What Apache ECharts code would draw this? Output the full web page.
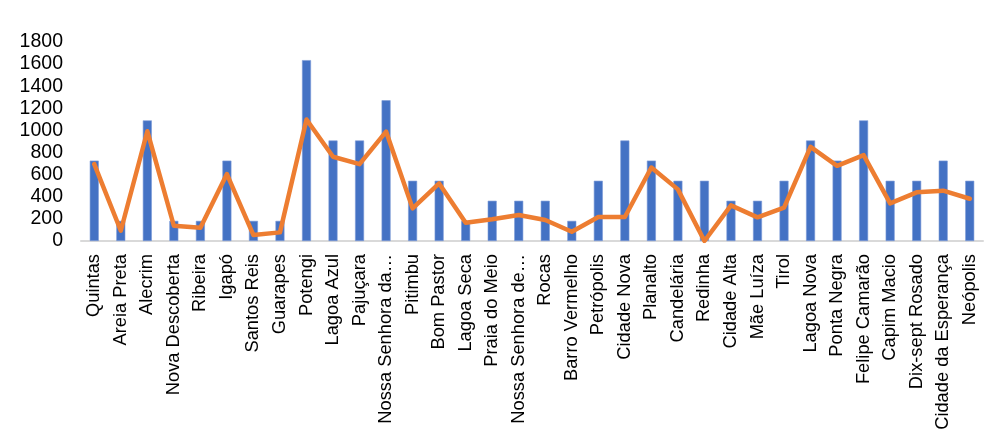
<!DOCTYPE html>
<html>
<head>
<meta charset="utf-8">
<script src="https://cdn.jsdelivr.net/npm/echarts@6/dist/echarts.min.js"></script>
<style>
	html, body { margin: 0; padding: 0; background: #fff; }
	#chart { width: 1000px; height: 442px; }
</style>
</head>
<body>
<div id="chart"></div>
<script>
var bairros = ['Quintas', 'Areia Preta', 'Alecrim', 'Nova Descoberta', 'Ribeira', 'Igapó', 'Santos Reis',
	'Guarapes', 'Potengi', 'Lagoa Azul', 'Pajuçara', 'Nossa Senhora da…', 'Pitimbu', 'Bom Pastor',
	'Lagoa Seca', 'Praia do Meio', 'Nossa Senhora de…', 'Rocas', 'Barro Vermelho', 'Petrópolis',
	'Cidade Nova', 'Planalto', 'Candelária', 'Redinha', 'Cidade Alta', 'Mãe Luíza', 'Tirol',
	'Lagoa Nova', 'Ponta Negra', 'Felipe Camarão', 'Capim Macio', 'Dix-sept Rosado',
	'Cidade da Esperança', 'Neópolis'];

var barras = [727, 182, 1091, 182, 182, 727, 182, 182, 1636, 909, 909, 1273, 545, 545, 182, 364,
	364, 364, 182, 545, 909, 727, 545, 545, 364, 364, 545, 909, 727, 1091, 545, 545, 727, 545];

var linha = [695, 93, 993, 138, 120, 605, 54, 78, 1099, 762, 695, 990, 295, 521, 166, 196,
	235, 190, 84, 217, 217, 665, 467, 0, 322, 214, 301, 852, 680, 777, 340, 440, 455, 382];

var yTicks = [0, 200, 400, 600, 800, 1000, 1200, 1400, 1600, 1800];

var chart = echarts.init(document.getElementById('chart'));
var option = {
	animation: false,
	grid: {
		left: 81,
		right: 17,
		top: 42,
		bottom: 201,
		containLabel: false
	},
	xAxis: {
		type: 'category',
		data: bairros,
		axisLine: { lineStyle: { color: '#D9D9D9', width: 2 } },
		axisTick: { show: false },
		axisLabel: {
			interval: 0,
			rotate: 90,
			margin: 13,
			fontSize: 18.3,
			color: '#000',
			fontFamily: 'Liberation Sans, Arial, sans-serif'
		}
	},
	yAxis: {
		type: 'value',
		min: yTicks[0],
		max: yTicks[yTicks.length - 1],
		interval: yTicks[1] - yTicks[0],
		axisLine: { show: false },
		axisTick: { show: false },
		splitLine: { show: false },
		axisLabel: {
			margin: 18,
			fontSize: 19.5,
			color: '#000',
			fontFamily: 'Liberation Sans, Arial, sans-serif',
			formatter: function (v) { return String(v); }
		}
	},
	series: [
		{
			type: 'bar',
			data: barras,
			barWidth: 9,
			itemStyle: {
				color: '#4472C4',
				borderColor: '#7C9BD6',
				borderWidth: 0.6
			}
		},
		{
			type: 'line',
			data: linha,
			symbol: 'none',
			lineStyle: { color: '#ED7D31', width: 4.5, join: 'round', cap: 'round' },
			itemStyle: { color: '#ED7D31' }
		}
	]
};
chart.setOption(option);
</script>
</body>
</html>
